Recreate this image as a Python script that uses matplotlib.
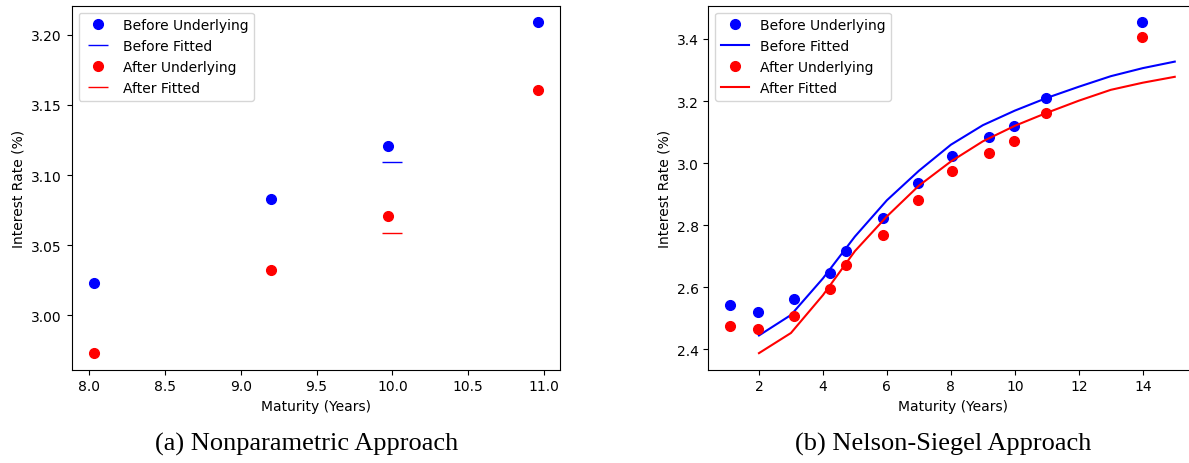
import numpy as np
import matplotlib
matplotlib.use("Agg")
import matplotlib.pyplot as plt

# underlying bond yields, before / after
maturity = [1.11, 1.98, 3.10, 4.22, 4.71, 5.88, 6.97, 8.03, 9.20, 9.97, 10.96, 13.99]
before_rate = [2.543, 2.521, 2.563, 2.644, 2.717, 2.822, 2.934, 3.023, 3.083, 3.121, 3.209, 3.454]
after_rate = [2.473, 2.466, 2.508, 2.594, 2.670, 2.768, 2.880, 2.973, 3.032, 3.071, 3.161, 3.406]

# nonparametric fit (only one fitted point)
np_maturity = [10.0]
np_before_fit = [3.109]
np_after_fit = [3.059]

# Nelson-Siegel fitted curves
ns_maturity = [2, 3, 4, 5, 6, 7, 8, 9, 10, 11, 12, 13, 14, 15]
ns_before_fit = [2.444, 2.510, 2.628, 2.763, 2.880, 2.975, 3.059, 3.122, 3.169, 3.210, 3.246, 3.280, 3.306, 3.327]
ns_after_fit = [2.387, 2.452, 2.574, 2.716, 2.828, 2.927, 3.005, 3.070, 3.120, 3.162, 3.201, 3.236, 3.259, 3.278]

fig = plt.figure(figsize=(11.89, 4.64), dpi=100)
ax1 = fig.add_axes([0.0603, 0.2011, 0.4107, 0.7845])
ax2 = fig.add_axes([0.5957, 0.2011, 0.4110, 0.7845])  # runs past the right edge, like the cropped original

# (a) nonparametric: only maturities between 8 and 11
sub = slice(7, 11)
ax1.plot(maturity[sub], before_rate[sub], 'o', color='blue', ms=7, label='Before Underlying')
ax1.plot(np_maturity, np_before_fit, '_', color='blue', ms=14, label='Before Fitted')
ax1.plot(maturity[sub], after_rate[sub], 'o', color='red', ms=7, label='After Underlying')
ax1.plot(np_maturity, np_after_fit, '_', color='red', ms=14, label='After Fitted')
ax1.set_xlabel('Maturity (Years)')
ax1.set_ylabel('Interest Rate (%)')
ax1.legend(loc='upper left')

# (b) Nelson-Siegel
ax2.plot(maturity, before_rate, 'o', color='blue', ms=7, label='Before Underlying')
ax2.plot(ns_maturity, ns_before_fit, '-', color='blue', label='Before Fitted')
ax2.plot(maturity, after_rate, 'o', color='red', ms=7, label='After Underlying')
ax2.plot(ns_maturity, ns_after_fit, '-', color='red', label='After Fitted')
ax2.set_xlabel('Maturity (Years)')
ax2.set_ylabel('Interest Rate (%)')
ax2.legend(loc='upper left')

fig.text(0.2582, 0.042, '(a) Nonparametric Approach', ha='center', va='center',
         family='Liberation Serif', fontsize=19)
fig.text(0.7931, 0.042, '(b) Nelson-Siegel Approach', ha='center', va='center',
         family='Liberation Serif', fontsize=19)

fig.savefig('out.png', dpi=100)
